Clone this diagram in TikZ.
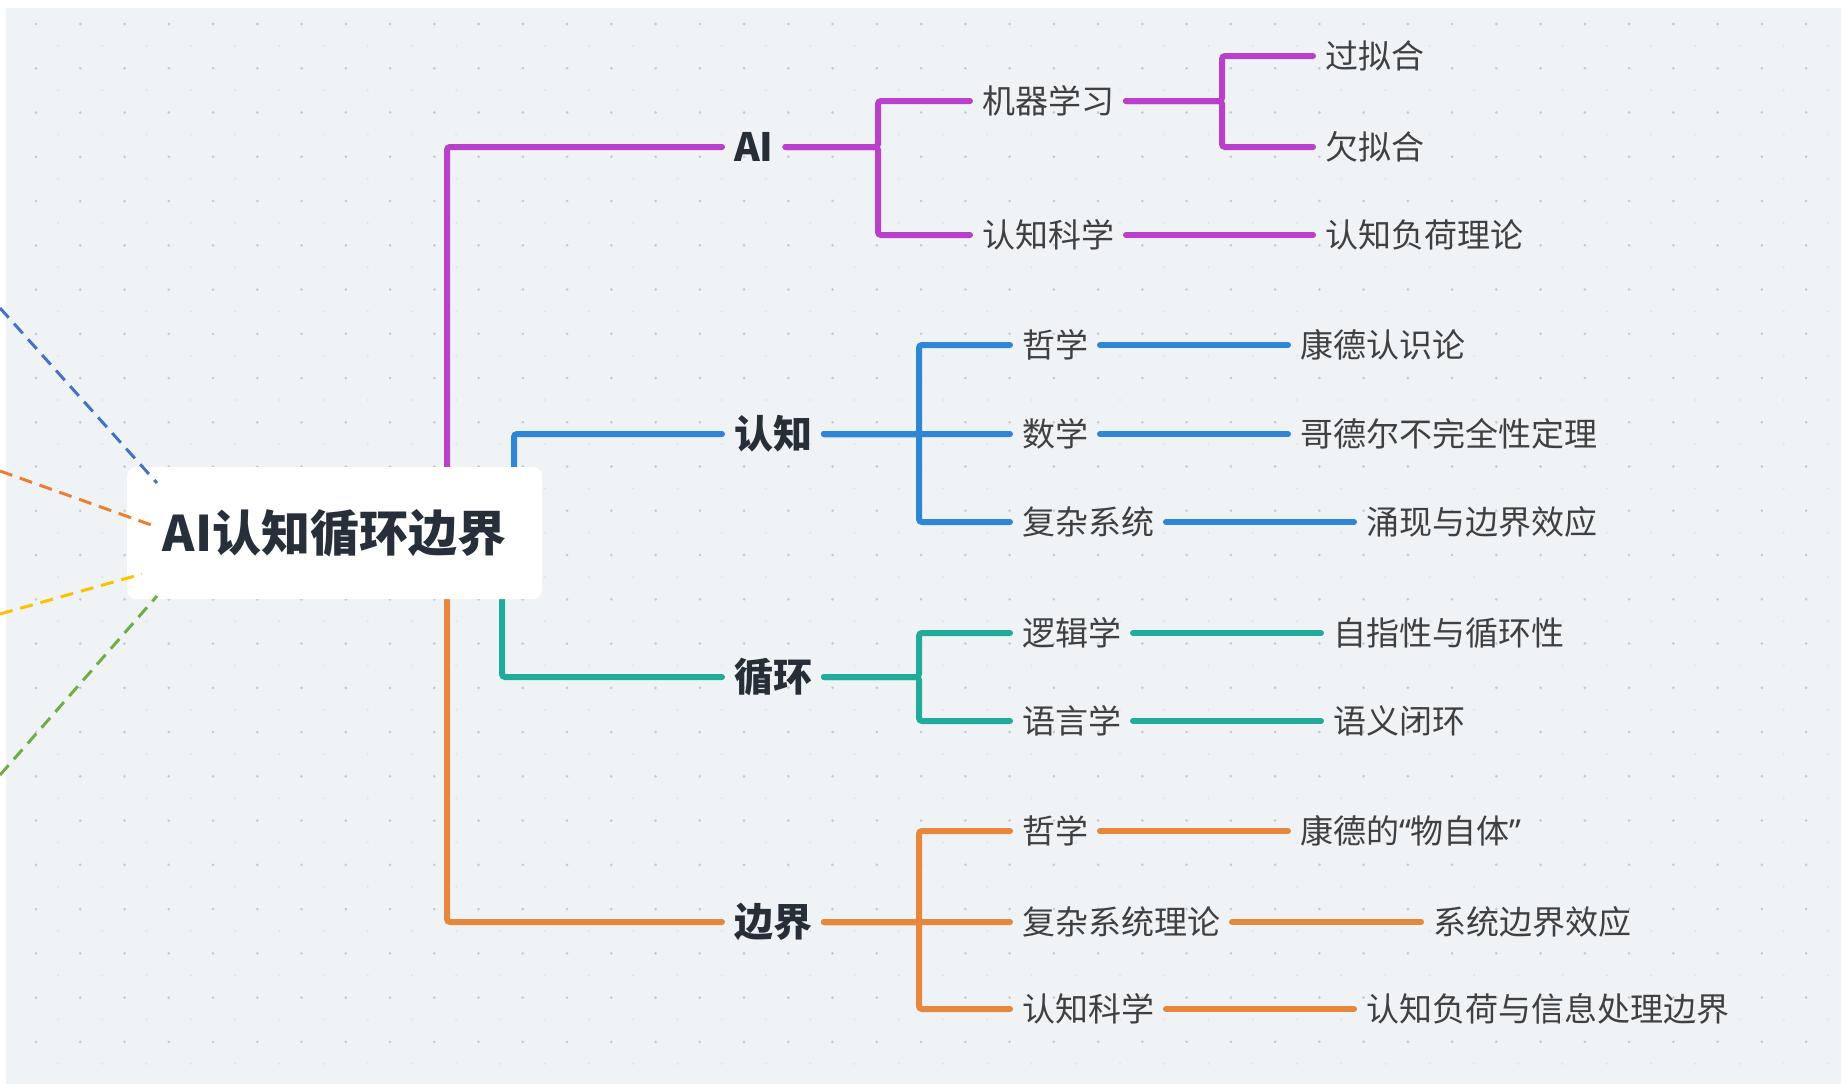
\documentclass[tikz,border=0pt]{standalone}
\usepackage{fontspec}
\setmainfont{Noto Sans CJK SC}
\newfontfamily\quotefont{Noto Sans}

\definecolor{canvas}{HTML}{F0F3F6}
\definecolor{dotMain}{HTML}{C6CBD1}
\definecolor{dotSoft}{HTML}{E0E4E8}
\definecolor{aiC}{HTML}{B940CB}
\definecolor{cogC}{HTML}{2E86D4}
\definecolor{loopC}{HTML}{20AC99}
\definecolor{bndC}{HTML}{E6873C}
\definecolor{dBlue}{HTML}{4472C4}
\definecolor{dOrange}{HTML}{ED7D31}
\definecolor{dYellow}{HTML}{FFC000}
\definecolor{dGreen}{HTML}{70AD47}
\definecolor{rootText}{HTML}{27303A}
\definecolor{topicText}{HTML}{262E38}
\definecolor{leafText}{HTML}{404040}

\begin{document}
\begin{tikzpicture}[x=1pt,y=-1pt]
	\tikzstyle{Root} = [rectangle, rounded corners=9pt, fill=white, minimum width=415pt, minimum height=132pt, text=rootText, font=\fontsize{49}{49}\selectfont\bfseries]
	\tikzstyle{Topic} = [anchor=west, inner sep=0pt, outer xsep=12pt, text=topicText, font=\fontsize{39}{39}\selectfont\bfseries]
	\tikzstyle{Leaf} = [anchor=west, inner sep=0pt, outer xsep=12pt, text=leafText, font=\fontsize{33}{33}\selectfont]
	\tikzstyle{branch} = [line width=6pt, rounded corners=3pt, line cap=round]
	\tikzstyle{link} = [line width=3pt, dash pattern=on 13pt off 8pt]

	\useasboundingbox (0,0) rectangle (1841,1084);
	% canvas with dot grid
	\fill[white] (0,0) rectangle (1841,1084);
	\fill[canvas] (6,8) rectangle (1841,1084);
	\foreach \i in {0,...,40}
		\foreach \j in {0,...,23} {
			\fill[dotMain] (36+44.25*\i, 24+44.25*\j) circle (1.5);
			\fill[dotSoft] (58+44.25*\i, 46+44.25*\j) circle (1.2);
		}

	% first level
	\node (ai) [Topic] at (722,147) {AI};
	\node (rz) [Topic] at (722,434) {认知};
	\node (xh) [Topic] at (722,677) {循环};
	\node (bj) [Topic] at (722,922) {边界};

	% second level
	\node (jq) [Leaf] at (970,101) {机器学习};
	\node (rk) [Leaf] at (970,235) {认知科学};
	\node (zx) [Leaf] at (1010,345) {哲学};
	\node (sx) [Leaf] at (1010,434) {数学};
	\node (fz) [Leaf] at (1010,522) {复杂系统};
	\node (lj) [Leaf] at (1010,633) {逻辑学};
	\node (yy) [Leaf] at (1010,721) {语言学};
	\node (zxb) [Leaf] at (1010,831) {哲学};
	\node (fzl) [Leaf] at (1010,922) {复杂系统理论};
	\node (rkb) [Leaf] at (1010,1009) {认知科学};

	% third level
	\node (gn) [Leaf] at (1313,56) {过拟合};
	\node (qn) [Leaf] at (1313,147) {欠拟合};
	\node (fh) [Leaf] at (1313,235) {认知负荷理论};
	\node (kd) [Leaf] at (1288,345) {康德认识论};
	\node (gd) [Leaf] at (1288,434) {哥德尔不完全性定理};
	\node (yx) [Leaf] at (1354,522) {涌现与边界效应};
	\node (zz) [Leaf] at (1321,633) {自指性与循环性};
	\node (yb) [Leaf] at (1321,721) {语义闭环};
	\node (wz) [Leaf] at (1288,831) {康德的{\quotefont“}物自体{\quotefont”}};
	\node (xt) [Leaf] at (1421,922) {系统边界效应};
	\node (xx) [Leaf] at (1354,1009) {认知负荷与信息处理边界};

	% forks
	\coordinate (hubA) at (447,533);
	\coordinate (hubB) at (514,533);
	\coordinate (hubC) at (502,533);
	\coordinate (aiFork) at (878,147);
	\coordinate (jqFork) at (1222,101);
	\coordinate (rzFork) at (919,434);
	\coordinate (xhFork) at (919,677);
	\coordinate (bjFork) at (919,922);

	\draw[branch, aiC] (hubA) |- (ai.west);
	\draw[branch, cogC] (hubB) |- (rz.west);
	\draw[branch, loopC] (hubC) |- (xh.west);
	\draw[branch, bndC] (hubA) |- (bj.west);

	\foreach \c in {jq,rk} \draw[branch, aiC] (ai.east) -- (aiFork) |- (\c.west);
	\foreach \c in {gn,qn} \draw[branch, aiC] (jq.east) -- (jqFork) |- (\c.west);
	\draw[branch, aiC] (rk.east) -- (fh.west);

	\foreach \c in {zx,sx,fz} \draw[branch, cogC] (rz.east) -- (rzFork) |- (\c.west);
	\draw[branch, cogC] (zx.east) -- (kd.west);
	\draw[branch, cogC] (sx.east) -- (gd.west);
	\draw[branch, cogC] (fz.east) -- (yx.west);

	\foreach \c in {lj,yy} \draw[branch, loopC] (xh.east) -- (xhFork) |- (\c.west);
	\draw[branch, loopC] (lj.east) -- (zz.west);
	\draw[branch, loopC] (yy.east) -- (yb.west);

	\foreach \c in {zxb,fzl,rkb} \draw[branch, bndC] (bj.east) -- (bjFork) |- (\c.west);
	\draw[branch, bndC] (zxb.east) -- (wz.west);
	\draw[branch, bndC] (fzl.east) -- (xt.west);
	\draw[branch, bndC] (rkb.east) -- (xx.west);

	\node (root) [Root] at (334.5,533) {AI认知循环边界};

	% dashed links from the left
	\coordinate (sBlue) at (0,308);
	\coordinate (sOrange) at (0,471);
	\coordinate (sYellow) at (0,614);
	\coordinate (sGreen) at (0,775);
	\coordinate (eBlue) at (157,483);
	\coordinate (eOrange) at (157,527);
	\coordinate (eYellow) at (142,574);
	\coordinate (eGreen) at (157,596);
	\draw[link, dBlue] (sBlue) -- (eBlue);
	\draw[link, dOrange] (sOrange) -- (eOrange);
	\draw[link, dYellow] (sYellow) -- (eYellow);
	\draw[link, dGreen] (sGreen) -- (eGreen);
\end{tikzpicture}
\end{document}
